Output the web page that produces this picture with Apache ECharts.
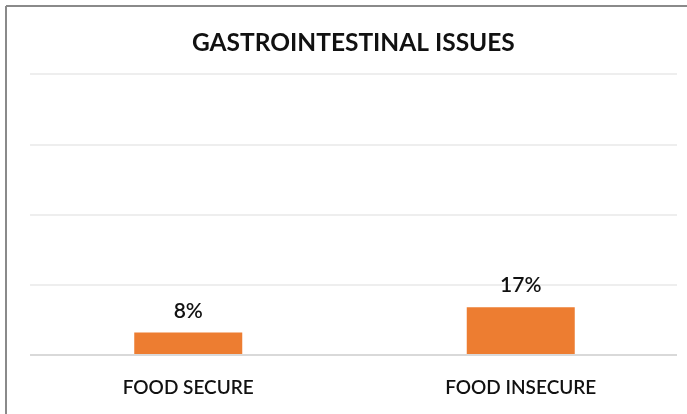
<!DOCTYPE html>
<html>
<head>
<meta charset="utf-8">
<script src="https://cdn.jsdelivr.net/npm/echarts@6/dist/echarts.min.js"></script>
<style>html,body{margin:0;padding:0;background:#fff;}#c{width:687px;height:414px;}</style>
</head>
<body>
<div id="c"></div>
<script>
const titleText = "GASTROINTESTINAL ISSUES";
const categories = ["FOOD SECURE", "FOOD INSECURE"];
const values = [8, 17];
const yTicks = [0, 25, 50, 75, 100];

const chart = echarts.init(document.getElementById('c'), null, {renderer: 'canvas'});
const font = 'Lato, "Open Sans", sans-serif';
chart.setOption({
  animation: false,
  backgroundColor: '#fff',
  title: {
    text: titleText, left: 187, top: 26,
    textStyle: {fontFamily: font, fontSize: 24.5, fontWeight: 'bold', color: '#111'}
  },
  graphic: [
    {type: 'line', shape: {x1: 6, y1: 6, x2: 687, y2: 6}, style: {stroke: '#8a8a8a', lineWidth: 2}},
    {type: 'line', shape: {x1: 6, y1: 6, x2: 6, y2: 414}, style: {stroke: '#8a8a8a', lineWidth: 2}}
  ],
  grid: [
    {left: 30, right: 10, top: 74, bottom: 59},
    {left: 22, right: 0, top: 74, bottom: 59}
  ],
  xAxis: [
    {type: 'category', gridIndex: 0, data: categories, show: false},
    {type: 'category', gridIndex: 1, data: categories,
      axisLine: {show: false}, axisTick: {show: false},
      axisLabel: {margin: 23, fontFamily: font, fontSize: 19, fontWeight: 600, color: '#111'}}
  ],
  yAxis: [
    {type: 'value', gridIndex: 0, min: yTicks[0], max: yTicks[yTicks.length-1], interval: 25,
      axisLabel: {show: false}, axisLine: {show: false}, axisTick: {show: false},
      splitLine: {lineStyle: {color: '#e8e8e8', width: 1.5}}},
    {type: 'value', gridIndex: 1, min: yTicks[0], max: yTicks[yTicks.length-1], interval: 25, show: false}
  ],
  series: [
    {type: 'line', xAxisIndex: 0, yAxisIndex: 0, data: [], silent: true,
      markLine: {silent: true, symbol: 'none', label: {show: false},
        lineStyle: {color: '#d9d9d9', width: 2, type: 'solid'}, data: [{yAxis: 0}]}},
    {type: 'bar', xAxisIndex: 1, yAxisIndex: 1, data: values, barWidth: 108,
      itemStyle: {color: '#ED7D31'},
      label: {show: true, position: 'top', distance: 11, formatter: '{c}%',
        fontFamily: font, fontSize: 21, fontWeight: 600, color: '#111'}}
  ]
});
</script>
</body>
</html>
